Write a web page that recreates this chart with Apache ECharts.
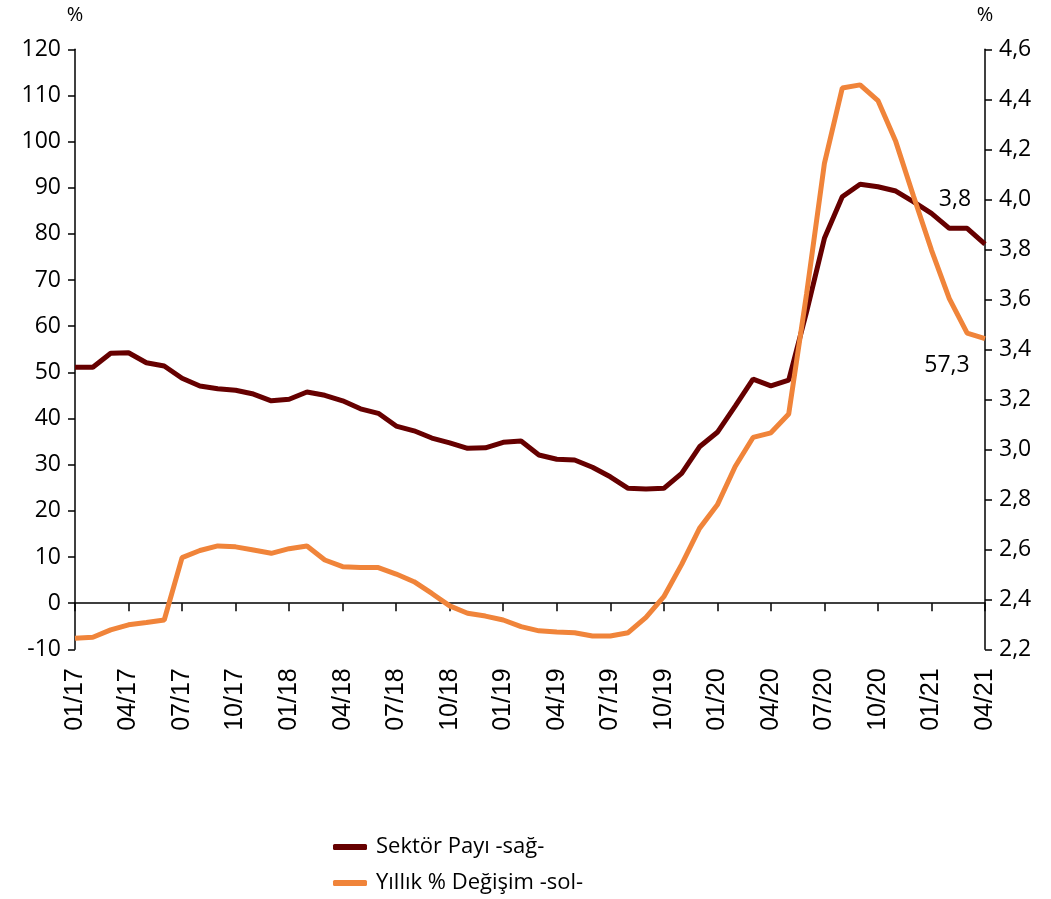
<!DOCTYPE html>
<html>
<head>
<meta charset="utf-8">
<script src="https://cdn.jsdelivr.net/npm/echarts@6/dist/echarts.min.js"></script>
<style>
html,body{margin:0;padding:0;background:#fff;}
#chart{width:1051px;height:899px;}
</style>
</head>
<body>
<div id="chart"></div>
<script>
var categories = ["01/17","02/17","03/17","04/17","05/17","06/17","07/17","08/17","09/17","10/17","11/17","12/17",
"01/18","02/18","03/18","04/18","05/18","06/18","07/18","08/18","09/18","10/18","11/18","12/18",
"01/19","02/19","03/19","04/19","05/19","06/19","07/19","08/19","09/19","10/19","11/19","12/19",
"01/20","02/20","03/20","04/20","05/20","06/20","07/20","08/20","09/20","10/20","11/20","12/20",
"01/21","02/21","03/21","04/21"];

var sektorPayi = [3.328,3.328,3.384,3.386,3.346,3.333,3.284,3.253,3.242,3.236,3.221,3.194,
3.2,3.229,3.216,3.194,3.162,3.144,3.093,3.074,3.045,3.026,3.004,3.006,
3.028,3.033,2.977,2.96,2.957,2.928,2.89,2.844,2.841,2.844,2.904,3.01,
3.068,3.173,3.281,3.254,3.277,3.55,3.844,4.01,4.06,4.05,4.033,3.99,
3.944,3.884,3.884,3.821];

var yillikDegisim = [-7.6,-7.4,-5.8,-4.7,-4.2,-3.65,9.85,11.4,12.4,12.2,11.5,10.8,
11.8,12.4,9.35,7.9,7.7,7.7,6.3,4.65,2.1,-0.6,-2.2,-2.8,
-3.65,-5.1,-6.0,-6.25,-6.4,-7.1,-7.1,-6.4,-3.1,1.4,8.4,16.2,
21.3,29.6,35.9,36.9,41.0,67,95.3,111.6,112.3,108.9,100.0,88.1,
76.5,66.0,58.5,57.3];

var seriesNames = ["Sektör Payı -sağ-", "Yıllık % Değişim -sol-"];

function comma(v){ return v.toFixed(1).replace('.', ','); }

function withEndLabel(arr, lab){
  return arr.map(function(v, i){
    if (i === arr.length - 1) {
      return {value: v, label: lab};
    }
    return v;
  });
}

var font = "Open Sans";
var chart = echarts.init(document.getElementById('chart'), null, {renderer:'canvas'});
chart.setOption({
  animation: false,
  backgroundColor: '#fff',
  grid: {left: 75, right: 66, top: 49.3, bottom: 249.7, containLabel: false},
  legend: {
    orient: 'vertical',
    left: 328,
    top: 831,
    itemWidth: 34,
    itemHeight: 6,
    itemGap: 14,
    icon: 'roundRect',
    textStyle: {fontFamily: font, fontSize: 22, color: '#000', padding: [0,0,0,4]},
    data: seriesNames
  },
  xAxis: {
    type: 'category',
    data: categories,
    boundaryGap: false,
    axisLine: {show: true, onZero: true, lineStyle: {color: '#000', width: 1.5}},
    axisTick: {show: true, interval: 2, length: 8, inside: false, lineStyle: {color: '#000', width: 1.5}},
    axisLabel: {
      interval: 2, rotate: 90, margin: 19,
      fontFamily: 'Liberation Sans', fontSize: 25, color: '#000'
    },
    splitLine: {show: false}
  },
  yAxis: [
    {
      type: 'value', min: -10, max: 120, interval: 10,
      position: 'left',
      name: '%', nameLocation: 'end', nameGap: 24,
      nameTextStyle: {fontFamily: font, fontSize: 20, color: '#000', align: 'center'},
      axisLine: {show: true, onZero: false, lineStyle: {color: '#000', width: 1.5}},
      axisTick: {show: true, length: 7, lineStyle: {color: '#000', width: 1.5}},
      axisLabel: {fontFamily: font, fontSize: 23, color: '#000', margin: 14},
      splitLine: {show: false}
    },
    {
      type: 'value', min: 2.2, max: 4.6, interval: 0.2,
      position: 'right',
      name: '%', nameLocation: 'end', nameGap: 24,
      nameTextStyle: {fontFamily: font, fontSize: 20, color: '#000', align: 'center'},
      axisLine: {show: true, onZero: false, lineStyle: {color: '#000', width: 1.5}},
      axisTick: {show: true, length: 7, lineStyle: {color: '#000', width: 1.5}},
      axisLabel: {fontFamily: font, fontSize: 23, color: '#000', margin: 14,
        formatter: function(v){ return comma(v); }},
      splitLine: {show: false}
    }
  ],
  series: [
    {
      name: seriesNames[0],
      type: 'line',
      yAxisIndex: 1,
      data: withEndLabel(sektorPayi, {
        show: true, position: 'top', offset: [-30, -28],
        fontFamily: font, fontSize: 23, color: '#000',
        formatter: function(p){ return comma(p.value); }
      }),
      showSymbol: true, symbol: 'circle', symbolSize: 0,
      itemStyle: {color: '#660000'},
      lineStyle: {color: '#660000', width: 5},
      z: 2
    },
    {
      name: seriesNames[1],
      type: 'line',
      yAxisIndex: 0,
      data: withEndLabel(yillikDegisim, {
        show: true, position: 'bottom', offset: [-38, 10],
        fontFamily: font, fontSize: 23, color: '#000',
        formatter: function(p){ return comma(p.value); }
      }),
      showSymbol: true, symbol: 'circle', symbolSize: 0,
      itemStyle: {color: '#F0843A'},
      lineStyle: {color: '#F0843A', width: 5},
      z: 3
    }
  ]
});
</script>
</body>
</html>
